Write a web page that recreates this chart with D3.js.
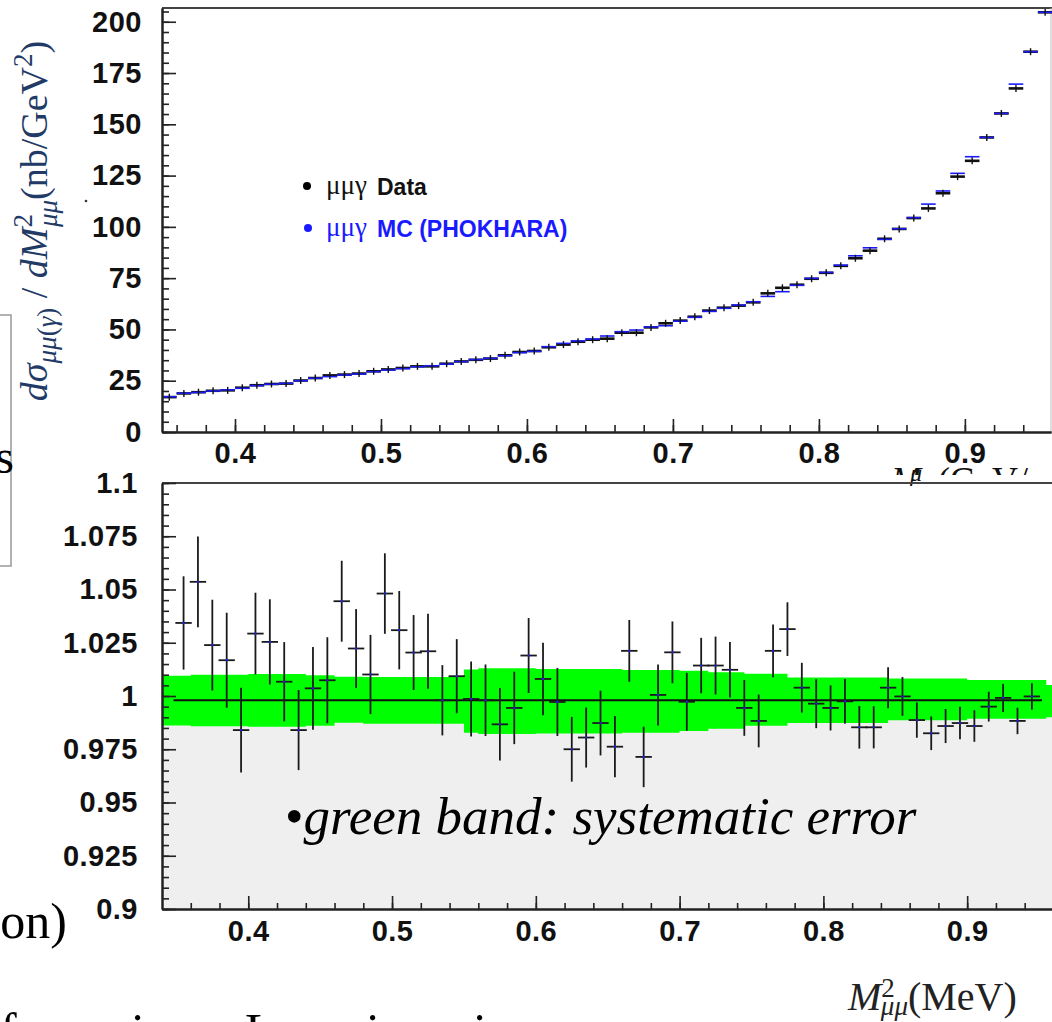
<!DOCTYPE html>
<html>
<head>
<meta charset="utf-8">
<script src="https://cdn.jsdelivr.net/npm/d3@7"></script>
<style>
  body { margin: 0; background: #fff; }
  svg { display: block; }
  .axis .domain { stroke: #222; stroke-width: 2; }
  .axis .tick line { stroke: #222; stroke-width: 1.6; }
  .axis .tick text { font-family: "Liberation Sans", Arial, sans-serif; font-weight: bold; font-size: 29px; letter-spacing: 0.5px; fill: #111; }
  .serif { font-family: "Liberation Serif", "Times New Roman", serif; }
</style>
</head>
<body>
<svg id="chart" width="1052" height="1022"></svg>
<script>
// bin centres of M^2_mumu (GeV^2), 0.01 wide
const massBins = [0.355, 0.365, 0.375, 0.385, 0.395, 0.405, 0.415, 0.425, 0.435, 0.445,
  0.455, 0.465, 0.475, 0.485, 0.495, 0.505, 0.515, 0.525, 0.535, 0.545,
  0.555, 0.565, 0.575, 0.585, 0.595, 0.605, 0.615, 0.625, 0.635, 0.645,
  0.655, 0.665, 0.675, 0.685, 0.695, 0.705, 0.715, 0.725, 0.735, 0.745,
  0.755, 0.765, 0.775, 0.785, 0.795, 0.805, 0.815, 0.825, 0.835, 0.845,
  0.855, 0.865, 0.875, 0.885, 0.895, 0.905, 0.915, 0.925, 0.935, 0.945, 0.955];

// MC (PHOKHARA) cross section, nb/GeV^2
const mcXsec = [17.2, 18.9, 19.3, 20.0, 20.5, 21.3, 22.6, 23.3, 23.7, 25.0,
  26.2, 27.0, 27.8, 28.3, 29.4, 30.2, 30.9, 31.8, 32.3, 33.1,
  34.3, 35.3, 35.9, 37.2, 38.7, 39.3, 41.6, 43.2, 44.4, 45.3,
  46.8, 48.9, 49.7, 51.2, 51.8, 54.0, 55.9, 58.8, 60.3, 61.9,
  63.5, 66.1, 68.4, 71.5, 74.9, 77.8, 81.3, 85.9, 89.8, 93.9,
  99.1, 104.5, 111.1, 117.5, 126.1, 134.2, 143.6, 155.3, 169.6, 185.4, 204.6];

// data cross section, nb/GeV^2
const dataXsec = [17.0, 18.8, 19.4, 20.1, 20.3, 21.6, 22.8, 23.4, 23.6, 25.1,
  26.3, 27.6, 28.0, 28.5, 29.6, 30.5, 31.2, 32.0, 32.0, 33.3,
  34.4, 35.2, 35.8, 37.4, 39.0, 39.5, 41.3, 42.6, 44.0, 45.0,
  45.5, 48.4, 48.4, 51.0, 53.0, 54.3, 56.2, 59.2, 60.6, 61.6,
  63.2, 67.6, 70.3, 71.8, 74.7, 77.6, 81.0, 84.7, 88.4, 94.2,
  99.0, 104.3, 109.0, 116.4, 124.5, 132.2, 143.6, 155.3, 167.5, 185.4, 204.6];

// data / MC ratio (first 60 bins) and its statistical error
const ratio = [1.0343, 1.0536, 1.0239, 1.0168, 0.9840, 1.0293, 1.0254, 1.0067, 0.9840, 1.0036,
  1.0074, 1.0445, 1.0223, 1.0101, 1.0481, 1.0309, 1.0204, 1.0210, 0.9980, 1.0093,
  0.9986, 0.9980, 0.9867, 0.9944, 1.0190, 1.0080, 0.9972, 0.9750, 0.9805, 0.9873,
  0.9762, 1.0212, 0.9714, 1.0005, 1.0205, 0.9973, 1.0143, 1.0143, 1.0123, 0.9944,
  0.9883, 1.0212, 1.0314, 1.0039, 0.9964, 0.9944, 0.9975, 0.9853, 0.9853, 1.0039,
  0.9998, 0.9887, 0.9825, 0.9859, 0.9873, 0.9859, 0.9950, 0.9991, 0.9883, 0.9998];
const ratioErr = [0.0219, 0.0213, 0.0213, 0.0223, 0.0199, 0.0192, 0.0200, 0.0186, 0.0188, 0.0194,
  0.0202, 0.0190, 0.0185, 0.0186, 0.0189, 0.0184, 0.0176, 0.0176, 0.0165, 0.0174,
  0.0176, 0.0168, 0.0170, 0.0170, 0.0176, 0.0170, 0.0160, 0.0152, 0.0141, 0.0152,
  0.0144, 0.0145, 0.0142, 0.0143, 0.0145, 0.0136, 0.0130, 0.0136, 0.0130, 0.0131,
  0.0124, 0.0124, 0.0126, 0.0117, 0.0115, 0.0106, 0.0105, 0.0100, 0.0099, 0.0096,
  0.0091, 0.0083, 0.0079, 0.0080, 0.0076, 0.0074, 0.0070, 0.0066, 0.0062, 0.0062];

// systematic band: segment start, upper and lower edge
const bandStart = [0.340, 0.360, 0.400, 0.440, 0.460, 0.480, 0.550, 0.560, 0.600, 0.660,
  0.700, 0.720, 0.745, 0.775, 0.845, 0.900, 0.955, 0.960];
const bandHi = [1.0095, 1.0100, 1.0103, 1.0098, 1.0090, 1.0089, 1.0125, 1.0130, 1.0127, 1.0122,
  1.0118, 1.0112, 1.0104, 1.0087, 1.0082, 1.0075, 1.0052, 1.0052];
const bandLo = [0.9862, 0.9858, 0.9856, 0.9860, 0.9875, 0.9870, 0.9827, 0.9822, 0.9824, 0.9828,
  0.9836, 0.9846, 0.9860, 0.9873, 0.9886, 0.9893, 0.9900, 0.9900];
const refLevel = 0.998;

const xTicks = [0.4, 0.5, 0.6, 0.7, 0.8, 0.9];
const topYTicks = [0, 25, 50, 75, 100, 125, 150, 175, 200];
const ratioYTicks = [0.9, 0.925, 0.95, 0.975, 1, 1.025, 1.05, 1.075, 1.1];

const svg = d3.select("#chart");
const halfBin = 0.005;

// ---------- top panel ----------
const xTop = d3.scaleLinear().domain([0.35, 0.959]).range([162, 1051]);
const yTop = d3.scaleLinear().domain([0, 206.7]).range([432, 8]);

svg.append("line").attr("x1", 162).attr("x2", 1052).attr("y1", 8).attr("y2", 8)
  .attr("stroke", "#444").attr("stroke-width", 2.2);
svg.append("line").attr("x1", 1051).attr("x2", 1051).attr("y1", 8).attr("y2", 432)
  .attr("stroke", "#bbb").attr("stroke-width", 1);

const topG = svg.append("g");
const topIdx = d3.range(massBins.length);

// data bars underneath, MC on top, data error ticks last
topG.selectAll(".dbar").data(topIdx).join("line")
  .attr("x1", i => xTop(massBins[i] - halfBin)).attr("x2", i => xTop(massBins[i] + halfBin))
  .attr("y1", i => yTop(dataXsec[i])).attr("y2", i => yTop(dataXsec[i]))
  .attr("stroke", "#111").attr("stroke-width", 2.6);
topG.selectAll(".mbar").data(topIdx).join("line")
  .attr("x1", i => xTop(massBins[i] - halfBin)).attr("x2", i => xTop(massBins[i] + halfBin))
  .attr("y1", i => yTop(mcXsec[i])).attr("y2", i => yTop(mcXsec[i]))
  .attr("stroke", "#1a1aff").attr("stroke-width", 1.6);
topG.selectAll(".derr").data(topIdx).join("line")
  .attr("x1", i => xTop(massBins[i])).attr("x2", i => xTop(massBins[i]))
  .attr("y1", i => yTop(dataXsec[i]) - 3.5).attr("y2", i => yTop(dataXsec[i]) + 3.5)
  .attr("stroke", "#111").attr("stroke-width", 1.4);

function minorTicks(lo, hi, step) {
  const out = [];
  for (let v = lo; v <= hi + 1e-9; v += step) out.push(+v.toFixed(4));
  return out;
}

const topYAxis = svg.append("g").attr("class", "axis").attr("transform", `translate(${xTop(0.35)},0)`);
topYAxis.call(d3.axisLeft(yTop).tickValues(topYTicks).tickSize(-14).tickSizeOuter(0).tickPadding(20).tickFormat(d3.format("d")));
topYAxis.append("g").attr("class", "axis")
  .call(d3.axisLeft(yTop).tickValues(minorTicks(0, 205, 5)).tickSize(-7).tickSizeOuter(0).tickFormat(""));

const topXAxis = svg.append("g").attr("class", "axis").attr("transform", `translate(0,${yTop(0)})`);
topXAxis.call(d3.axisBottom(xTop).tickValues(xTicks).tickSize(-13).tickSizeOuter(0).tickPadding(10).tickFormat(d3.format(".1f")));
topXAxis.append("g").attr("class", "axis")
  .call(d3.axisBottom(xTop).tickValues(minorTicks(0.36, 0.95, 0.02)).tickSize(-7).tickSizeOuter(0).tickFormat(""));

// legend
const legend = svg.append("g");
legend.append("circle").attr("cx", 307).attr("cy", 186).attr("r", 4).attr("fill", "#000");
legend.append("text").attr("class", "serif").attr("x", 326).attr("y", 194).attr("font-size", 27).attr("fill", "#111").text("μμγ");
legend.append("text").attr("x", 377).attr("y", 195).attr("font-family", "Liberation Sans, Arial, sans-serif")
  .attr("font-weight", "bold").attr("font-size", 23).attr("fill", "#111").text("Data");
legend.append("circle").attr("cx", 308).attr("cy", 228).attr("r", 4).attr("fill", "#1a1aff");
legend.append("text").attr("class", "serif").attr("x", 326).attr("y", 236).attr("font-size", 27).attr("fill", "#1a1aff").text("μμγ");
legend.append("text").attr("x", 377).attr("y", 237).attr("font-family", "Liberation Sans, Arial, sans-serif")
  .attr("font-weight", "bold").attr("font-size", 23).attr("fill", "#1a1aff").text("MC (PHOKHARA)");

// y title of top panel
const yTitle = svg.append("text").attr("class", "serif")
  .attr("transform", "translate(47,221) rotate(-90)").attr("text-anchor", "middle")
  .attr("font-size", 38).attr("fill", "#223a66");
yTitle.append("tspan").attr("font-style", "italic").text("dσ");
yTitle.append("tspan").attr("font-style", "italic").attr("font-size", 27).attr("dy", 9).text("μμ");
yTitle.append("tspan").attr("font-size", 27).text("(");
yTitle.append("tspan").attr("font-style", "italic").attr("font-size", 27).text("γ");
yTitle.append("tspan").attr("font-size", 27).text(")");
yTitle.append("tspan").attr("dy", -9).text(" / ");
yTitle.append("tspan").attr("font-style", "italic").text("dM");
yTitle.append("tspan").attr("font-size", 27).attr("dy", -15).text("2");
yTitle.append("tspan").attr("font-style", "italic").attr("font-size", 27).attr("dx", -13).attr("dy", 25).text("μμ");
yTitle.append("tspan").attr("dy", -10).text("(nb/GeV");
yTitle.append("tspan").attr("font-size", 27).attr("dy", -15).text("2");
yTitle.append("tspan").attr("dy", 15).text(")");
svg.append("circle").attr("cx", 86).attr("cy", 201).attr("r", 1.3).attr("fill", "#333");

// partially hidden x title of the top panel
svg.append("clipPath").attr("id", "cutTitle").append("rect").attr("x", 850).attr("y", 455).attr("width", 202).attr("height", 20);
const cut = svg.append("text").attr("class", "serif").attr("clip-path", "url(#cutTitle)")
  .attr("font-size", 36).attr("fill", "#111").attr("y", 492);
cut.append("tspan").attr("x", 891).attr("font-style", "italic").text("M");
cut.append("tspan").attr("x", 938).text("(GeV/c");

// ---------- bottom (ratio) panel ----------
const xRat = d3.scaleLinear().domain([0.34, 0.959]).range([162, 1052]);
const yRat = d3.scaleLinear().domain([0.9, 1.1]).range([909, 483]);

svg.append("rect").attr("x", 150).attr("y", 475).attr("width", 902).attr("height", 434).attr("fill", "#fff");
svg.append("text").attr("class", "serif").attr("x", 910).attr("y", 481).attr("font-size", 24)
  .attr("font-style", "italic").attr("fill", "#111").text("μ");
svg.append("rect").attr("x", 162).attr("y", yRat(0.996)).attr("width", 890)
  .attr("height", yRat(0.9) - yRat(0.996)).attr("fill", "#efefef");

const band = d3.area().curve(d3.curveStepAfter)
  .x(i => xRat(bandStart[i])).y0(i => yRat(bandLo[i])).y1(i => yRat(bandHi[i]));
svg.append("path").datum(d3.range(bandStart.length)).attr("d", band).attr("fill", "#00ff00");

svg.append("line").attr("x1", xRat(0.348)).attr("x2", xRat(0.952))
  .attr("y1", yRat(refLevel)).attr("y2", yRat(refLevel)).attr("stroke", "#111").attr("stroke-width", 2);

const ratIdx = d3.range(ratio.length);
const pts = svg.append("g").attr("stroke", "#1a1a1a").attr("stroke-width", 1.8);
pts.selectAll(".ev").data(ratIdx).join("line")
  .attr("x1", i => xRat(massBins[i])).attr("x2", i => xRat(massBins[i]))
  .attr("y1", i => yRat(ratio[i] + ratioErr[i])).attr("y2", i => yRat(ratio[i] - ratioErr[i]));
pts.selectAll(".eh").data(ratIdx).join("line")
  .attr("x1", i => xRat(massBins[i] - halfBin) - 1).attr("x2", i => xRat(massBins[i] + halfBin) + 1)
  .attr("y1", i => yRat(ratio[i])).attr("y2", i => yRat(ratio[i]));
svg.append("g").selectAll("circle").data(ratIdx).join("circle")
  .attr("cx", i => xRat(massBins[i])).attr("cy", i => yRat(ratio[i])).attr("r", 1.1).attr("fill", "#2020ff");

svg.append("line").attr("x1", 162).attr("x2", 1052).attr("y1", 483).attr("y2", 483)
  .attr("stroke", "#444").attr("stroke-width", 2.2);

const ratYAxis = svg.append("g").attr("class", "axis").attr("transform", `translate(162,0)`);
ratYAxis.call(d3.axisLeft(yRat).tickValues(ratioYTicks).tickSize(-14).tickSizeOuter(0).tickPadding(24).tickFormat(d => String(+d.toFixed(3))));
ratYAxis.append("g").attr("class", "axis")
  .call(d3.axisLeft(yRat).tickValues(minorTicks(0.9, 1.1, 0.005)).tickSize(-7).tickSizeOuter(0).tickFormat(""));

const ratXAxis = svg.append("g").attr("class", "axis").attr("transform", `translate(0,${yRat(0.9)})`);
ratXAxis.call(d3.axisBottom(xRat).tickValues(xTicks).tickSize(-13).tickSizeOuter(0).tickPadding(11).tickFormat(d3.format(".1f")));
ratXAxis.append("g").attr("class", "axis")
  .call(d3.axisBottom(xRat).tickValues(minorTicks(0.36, 0.95, 0.02)).tickSize(-6).tickSizeOuter(0).tickFormat(""));

// annotation inside ratio panel
const note = svg.append("text").attr("class", "serif").attr("x", 285).attr("y", 834)
  .attr("font-size", 53).attr("fill", "#000");
note.append("tspan").text("•");
note.append("tspan").attr("font-style", "italic").text("green band: systematic error");

// x title of the ratio panel
const xTitle = svg.append("text").attr("class", "serif").attr("x", 848).attr("y", 1010)
  .attr("font-size", 40).attr("fill", "#222");
xTitle.append("tspan").attr("font-style", "italic").text("M");
xTitle.append("tspan").attr("font-size", 27).attr("dy", -13).text("2");
xTitle.append("tspan").attr("font-style", "italic").attr("font-size", 27).attr("dx", -14).attr("dy", 18).text("μμ");
xTitle.append("tspan").attr("dy", -5).text("(MeV)");

// pieces of the surrounding slide
svg.append("path").attr("d", "M0,315H11V566H0").attr("fill", "none").attr("stroke", "#999").attr("stroke-width", 1.5);
svg.append("text").attr("class", "serif").attr("x", 14).attr("y", 473).attr("text-anchor", "end")
  .attr("font-size", 48).attr("fill", "#000").text("s");
svg.append("text").attr("class", "serif").attr("x", 67).attr("y", 938).attr("text-anchor", "end")
  .attr("font-size", 50).attr("fill", "#000").text("on)");
const cutLine = svg.append("text").attr("class", "serif").attr("y", 1048).attr("font-size", 50).attr("fill", "#000");
[["f", 0], ["i", 131], ["L", 245], ["i", 366], ["i", 473]].forEach(([c, x]) => cutLine.append("tspan").attr("x", x).text(c));
</script>
</body>
</html>
